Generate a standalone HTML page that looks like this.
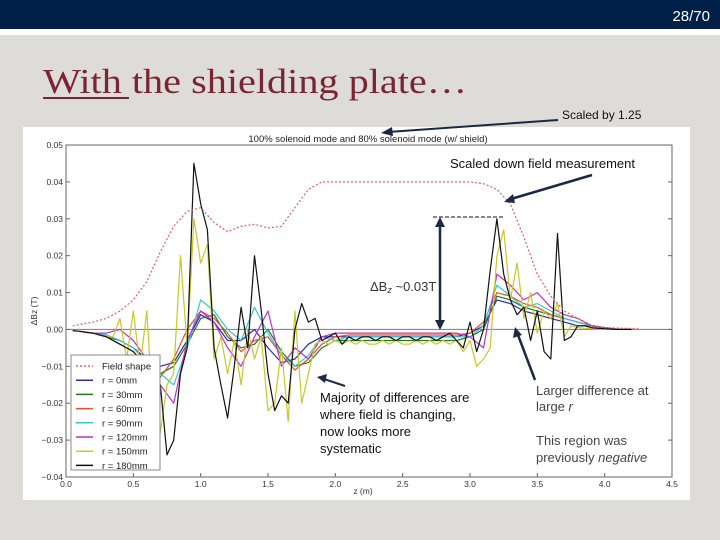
<!DOCTYPE html>
<html><head><meta charset="utf-8"><style>
body{margin:0;background:#dedcd8;}
svg{display:block;font-family:"Liberation Sans",sans-serif;}
</style></head><body>
<svg id="s" width="720" height="540" viewBox="0 0 720 540">
<rect x="0" y="0" width="720" height="540" fill="#dedcd8"/>
<rect x="0" y="0" width="720" height="29" fill="#00204a"/>
<rect x="0" y="29" width="720" height="6" fill="#ffffff"/>
<text x="710" y="21" text-anchor="end" font-size="15" fill="#ffffff">28/70</text>
<text x="43" y="93" font-family="Liberation Serif, serif" font-size="35" fill="#7a2530" textLength="424" lengthAdjust="spacingAndGlyphs">With the shielding plate…</text>
<rect x="43" y="97" width="86" height="2" fill="#7a2530"/>
<rect x="23" y="127" width="667" height="373" fill="#ffffff"/>
<g id="plot"></g>
<text x="562" y="119" font-size="12" fill="#111">Scaled by 1.25</text>
<line x1="558" y1="120" x2="388" y2="132" stroke="#1a2a45" stroke-width="2"/>
<polygon points="381,133 392,127 393,136" fill="#1a2a45"/>
<text x="450" y="168" font-size="13" fill="#111">Scaled down field measurement</text>
<line x1="592" y1="175" x2="511" y2="199" stroke="#1a2a45" stroke-width="2.5"/>
<polygon points="504,202 513,194 515,203" fill="#1a2a45"/>
<line x1="433" y1="217" x2="505" y2="217" stroke="#111" stroke-width="1" stroke-dasharray="4,2"/>
<line x1="440" y1="224" x2="440" y2="323" stroke="#1a2a45" stroke-width="2.5"/>
<polygon points="440,217 435,227 445,227" fill="#1a2a45"/>
<polygon points="440,330 435,320 445,320" fill="#1a2a45"/>
<text x="370" y="291" font-size="13" fill="#333">ΔB<tspan font-style="italic" font-size="9" dy="2">z</tspan><tspan dy="-2"> ~0.03T</tspan></text>
<line x1="345" y1="386" x2="324" y2="379" stroke="#1a2a45" stroke-width="2"/>
<polygon points="317,377 327,374 325,383" fill="#1a2a45"/>
<g font-size="13" fill="#111">
<text x="320" y="402">Majority of differences are</text>
<text x="320" y="419">where field is changing,</text>
<text x="320" y="436">now looks more</text>
<text x="320" y="453">systematic</text>
</g>
<line x1="535" y1="380" x2="518" y2="335" stroke="#1a2a45" stroke-width="2.5"/>
<polygon points="515,327 513,338 522,335" fill="#1a2a45"/>
<g font-size="13" fill="#444">
<text x="536" y="395">Larger difference at</text>
<text x="536" y="411">large <tspan font-style="italic">r</tspan></text>
<text x="536" y="445">This region was</text>
<text x="536" y="462">previously <tspan font-style="italic">negative</tspan></text>
</g>
</svg>
<script>
const zFine=[0.05,0.10,0.15,0.20,0.25,0.30,0.35,0.40,0.45,0.50,0.55,0.60,0.65,0.70,0.75,0.80,0.85,0.90,0.95,1.00,1.05,1.10,1.15,1.20,1.25,1.30,1.35,1.40,1.45,1.50,1.55,1.60,1.65,1.70,1.75,1.80,1.85,1.90,1.95,2.00,2.05,2.10,2.15,2.20,2.25,2.30,2.35,2.40,2.45,2.50,2.55,2.60,2.65,2.70,2.75,2.80,2.85,2.90,2.95,3.00,3.05,3.10,3.15,3.20,3.25,3.30,3.35,3.40,3.45,3.50,3.55,3.60,3.65,3.70,3.75,3.80,3.85,3.90,3.95,4.00,4.05,4.10,4.15,4.20];
const zCoarse=[0.1,0.2,0.3,0.4,0.5,0.6,0.7,0.8,0.9,1.0,1.1,1.2,1.3,1.4,1.5,1.6,1.7,1.8,1.9,2.0,2.1,2.2,2.3,2.4,2.5,2.6,2.7,2.8,2.9,3.0,3.1,3.2,3.3,3.4,3.5,3.6,3.7,3.8,3.9,4.0,4.1,4.2];
const zField=[0.05,0.2,0.3,0.4,0.5,0.6,0.7,0.8,0.9,1.0,1.1,1.2,1.3,1.4,1.5,1.6,1.7,1.8,1.9,2.0,2.5,3.0,3.1,3.2,3.3,3.4,3.5,3.6,3.7,3.8,3.9,4.0,4.25];
const fieldShape=[1,2,3,5,8,13,21,28,32,33,29,26.5,28,28.5,27.5,28,33,38,40,40,40,40,39.5,38,34,25,15,9,5,3,1.2,0.5,0.2];
// values in mT
const r180=[-0.3,-0.5,-0.8,-1,-1.5,-2,-3,-4,-5,-6,-8,-12,-20,-15,-34,-30,-12,-5,45,34,27,-5,-15,-24,-10,6,-5,20,5,-12,-22,-18,-20,0,7,2,3,-3,-2,-1,-4,-2,-3,-2,-2,-3,-2,-2,-3,-2,-2,-3,-2,-2,-3,-2,-1,-3,-5,2,-6,0,16,30,15,8,4,6,-3,5,-6,-8,26,-3,-2,1,1,0.5,0.3,0.2,0.1,0,0,0];
const r150=[-0.3,-0.5,-0.8,-1,-1.5,-2,-2,3,-8,5,-10,5,-25,-28,-15,-12,20,-5,30,18,23,-8,-2,-12,-3,-15,0,-8,-2,-22,-20,-5,-25,5,-20,-12,-4,-3,-4,-3,-4,-3,-4,-3,-4,-4,-3,-4,-3,-4,-4,-3,-4,-3,-4,-3,-4,-3,-6,-3,-10,-8,-5,20,27,8,18,3,10,-1,5,3,7,-2,1,0.5,0.3,0.2,0.1,0,0,0,0,0];
const r0=[-0.5,-1,-1.5,-3,-5,-8,-10,-9,-3,4,2,-3,-3,0,-5,-9,-8,-4,-2,-2,-2,-2,-2,-2,-2,-2,-2,-2,-2,-1,1,8,7,5,4,3,2,1,1,0.3,0,0];
const r30=[-0.5,-1,-2,-3,-5,-9,-12,-10,-4,3,4,-2,-5,-4,0,-6,-10,-9,-5,-3,-3,-3,-3,-3,-3,-3,-3,-3,-3,-2,0,9,8,6,5,4,3,2,1,0.5,0,0];
const r60=[-0.5,-1,-2,-4,-6,-10,-13,-8,0,5,3,-1,-6,-3,-2,-7,-11,-8,-4,-2,-1.5,-1.5,-1.5,-1.5,-1.5,-1.5,-1.5,-1.5,-1.5,-1,2,10,9,7,6,4,3,2,1,0.5,0,0];
const r90=[-0.5,-1,-1.5,-3,-5,-9,-12,-15,-5,8,5,0,-3,6,-1,-7,-10,-7,-2,-3,-2,-2,-2,-2,-2,-2,-2,-2,-2,-2,1,12,9,6,7,5,3,2,1,0.5,0,0];
const r120=[-0.5,-1,-1,0,-3,-8,-15,-20,-3,5,2,-5,-10,-2,5,-10,-5,-8,-2,-1,-1,-1,-1,-1,-1,-1,-1,-1,-1,-2,-5,15,12,8,10,6,4,3,1,0.5,0,0];
const xTicks=["0.0","0.5","1.0","1.5","2.0","2.5","3.0","3.5","4.0","4.5"];
const yTicks=["0.05","0.04","0.03","0.02","0.01","0.00","−0.01","−0.02","−0.03","−0.04"];
const legendLabels=["Field shape","r = 0mm","r = 30mm","r = 60mm","r = 90mm","r = 120mm","r = 150mm","r = 180mm"];

const NS="http://www.w3.org/2000/svg";
const g=document.getElementById('plot');
const X0=66,X1=672,Y0=145,Y1=477;
const sx=z=>X0+(z-0)/(4.5)*(X1-X0);
const sy=v=>Y0+(50-v)/90*(Y1-Y0); // v in mT
function mk(tag,a,parent){const e=document.createElementNS(NS,tag);for(const k in a)e.setAttribute(k,a[k]);(parent||g).appendChild(e);return e;}
function path(xs,ys){let d="";const n=Math.min(xs.length,ys.length);for(let i=0;i<n;i++)d+=(i?"L":"M")+sx(xs[i]).toFixed(1)+","+sy(ys[i]).toFixed(1);return d;}

const frame=mk('rect',{x:X0,y:Y0,width:X1-X0,height:Y1-Y0,fill:'none',stroke:'#666','stroke-width':1});


const zero=mk('line',{x1:X0,x2:X1,y1:sy(0),y2:sy(0),stroke:'#888','stroke-width':1.2});


xTicks.forEach((t,i)=>{const v=parseFloat(t);
 const tk=mk('line',{x1:sx(v),x2:sx(v),y1:Y1,y2:Y1-4,stroke:'#666'});
 
 
 const tx=mk('text',{x:sx(v),y:Y1+10,'font-size':8.5,'text-anchor':'middle',fill:'#333'});tx.textContent=t;
 
 });
yTicks.forEach((t,i)=>{const v=parseFloat(t.replace('−','-'))*1000;
 const tk=mk('line',{x1:X0,x2:X0+4,y1:sy(v),y2:sy(v),stroke:'#666'});
 
 
 const tk2=mk('line',{x1:X1,x2:X1-4,y1:sy(v),y2:sy(v),stroke:'#666'});
 
 
 const tx=mk('text',{x:X0-3,y:sy(v)+3,'font-size':8.5,'text-anchor':'end',fill:'#333'});tx.textContent=t;
 
 });
const tt=mk('text',{x:368,y:142,'font-size':9.5,'text-anchor':'middle',fill:'#222'});tt.textContent="100% solenoid mode and 80% solenoid mode (w/ shield)";


const xl=mk('text',{x:363,y:494,'font-size':8.5,'text-anchor':'middle',fill:'#333'});xl.textContent="z (m)";


const yl=mk('text',{x:0,y:0,'font-size':8.5,'text-anchor':'middle',fill:'#333',transform:'translate(37,311) rotate(-90)'});yl.textContent="ΔBz (T)";



const series=[[zCoarse,r0,'#2a2ab8','series-r0'],[zCoarse,r30,'#1f7a1f','series-r30'],[zCoarse,r60,'#e8502a','series-r60'],[zCoarse,r90,'#30c8d8','series-r90'],[zCoarse,r120,'#c030c8','series-r120'],[zFine,r150,'#c8c828','series-r150'],[zFine,r180,'#111111','series-r180']];
series.forEach(s=>{const p=mk('path',{d:path(s[0],s[1]),fill:'none',stroke:s[2],'stroke-width':1.2,'stroke-linejoin':'round'});
 
 });
const fp=mk('path',{d:path(zField,fieldShape),fill:'none',stroke:'#e06060','stroke-width':1.2,'stroke-dasharray':'2,2'});



const lg=mk('rect',{x:71,y:355,width:89,height:115,fill:'#fff',stroke:'#888'});


const lcols=['#e06060','#2a2ab8','#1f7a1f','#e8502a','#30c8d8','#c030c8','#c8c828','#111111'];
legendLabels.forEach((t,i)=>{const y=366+i*14.2;
 const ln=mk('line',{x1:76,x2:93,y1:y,y2:y,stroke:lcols[i],'stroke-width':1.5});
 if(i===0)ln.setAttribute('stroke-dasharray','2,2');
 
 
 const tx=mk('text',{x:102,y:y+3.5,'font-size':9.5,fill:'#222'});tx.textContent=t;
 
 });
</script>
</body></html>
